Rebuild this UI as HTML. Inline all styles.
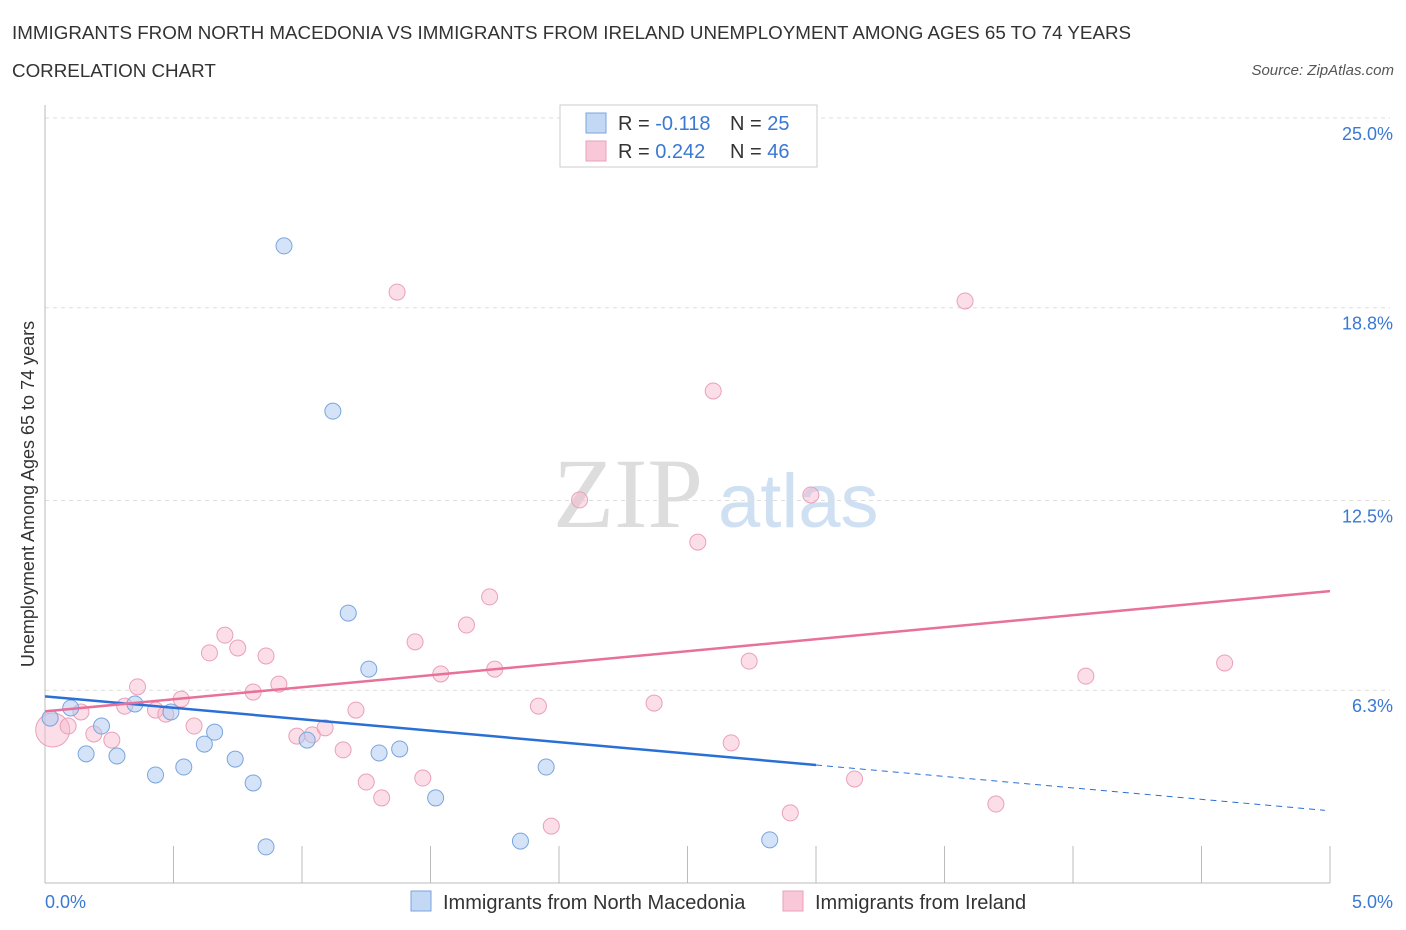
<!DOCTYPE html>
<html><head><meta charset="utf-8">
<style>
body{margin:0;background:#fff;font-family:"Liberation Sans",sans-serif;}
#wrap{position:relative;width:1406px;height:930px;overflow:hidden;}
.t{position:absolute;white-space:nowrap;}
</style></head><body>
<div id="wrap">
<div class="t" style="left:12px;top:22px;font-size:18.8px;color:#333;">IMMIGRANTS FROM NORTH MACEDONIA VS IMMIGRANTS FROM IRELAND UNEMPLOYMENT AMONG AGES 65 TO 74 YEARS</div>
<div class="t" style="left:12px;top:60px;font-size:18.8px;color:#333;">CORRELATION CHART</div>
<div class="t" style="right:12px;top:62px;font-size:15px;color:#555;font-style:italic;">Source: ZipAtlas.com</div>
<svg id="chart" width="1406" height="930" style="position:absolute;left:0;top:0"></svg>
</div>
<script>
const blueX=[0.02,0.10,0.16,0.22,0.28,0.35,0.43,0.49,0.54,0.62,0.66,0.74,0.81,0.86,0.93,1.02,1.12,1.18,1.26,1.30,1.38,1.52,1.85,1.95,2.82];
const blueY=[5.39,5.72,4.22,5.13,4.15,5.85,3.53,5.59,3.79,4.54,4.93,4.05,3.27,1.18,20.82,4.67,15.42,8.82,6.99,4.25,4.38,2.78,1.37,3.79,1.41];
const pinkX=[0.03,0.09,0.14,0.19,0.26,0.31,0.36,0.43,0.47,0.53,0.58,0.64,0.70,0.75,0.81,0.86,0.91,0.98,1.04,1.09,1.16,1.21,1.25,1.31,1.37,1.44,1.47,1.54,1.64,1.73,1.75,1.92,1.97,2.08,2.37,2.54,2.60,2.67,2.74,2.90,2.98,3.15,3.58,3.70,4.05,4.59];
const pinkY=[5.0,5.13,5.59,4.87,4.67,5.78,6.41,5.65,5.52,6.01,5.13,7.52,8.10,7.68,6.24,7.42,6.50,4.80,4.84,5.07,4.35,5.65,3.30,2.78,19.31,7.88,3.43,6.83,8.43,9.35,6.99,5.78,1.86,12.52,5.88,11.14,16.08,4.58,7.25,2.29,12.68,3.40,19.02,2.58,6.76,7.19];
const yTicks=[25,18.8,12.5,6.3];
const yTickLabels=["25.0%","18.8%","12.5%","6.3%"];
const blueTrend=[6.1,2.36];
const pinkTrend=[5.61,9.54];
const NS="http://www.w3.org/2000/svg";
const svg=document.getElementById('chart');
const X0=45,X1=1330,Y0=883,YS=30.6;
const sx=v=>X0+v/5*(X1-X0);
const sy=v=>Y0-v*YS;
function mk(t,a,p){const e=document.createElementNS(NS,t);for(const k in a)e.setAttribute(k,a[k]);(p||svg).appendChild(e);return e;}
let wm=mk('text',{x:553,y:527,'font-size':100,fill:'#ddd','font-family':'Liberation Serif, serif'});wm.textContent='ZIP';


let wm2=mk('text',{x:718,y:527,'font-size':76,fill:'#cfe0f3','font-family':'Liberation Sans, sans-serif'});wm2.textContent='atlas';


yTicks.forEach((t,i)=>{
 const g=mk('line',{x1:X0,x2:1390,y1:sy(t),y2:sy(t),stroke:'#ddd','stroke-dasharray':'4,4'});
 
 
 const l=mk('text',{x:1393,y:sy(t)+22,'text-anchor':'end','font-size':18,fill:'#3a78d4'});l.textContent=yTickLabels[i];
 
 
});
mk('line',{x1:X0,x2:X0,y1:105,y2:Y0,stroke:'#bbb'});
mk('line',{x1:X0,x2:X1,y1:Y0,y2:Y0,stroke:'#bbb'});
for(let i=0;i<=10;i++){const x=sx(i*0.5);const tk=mk('line',{x1:x,x2:x,y1:Y0-37,y2:Y0,stroke:'#bbb'});
 
 }
let xl=mk('text',{x:45,y:908,'font-size':18,fill:'#3a78d4'});xl.textContent='0.0%';


let xr=mk('text',{x:1393,y:908,'font-size':18,fill:'#3a78d4','text-anchor':'end'});xr.textContent='5.0%';


let yt=mk('text',{x:34,y:494,'font-size':18,fill:'#333','text-anchor':'middle',transform:'rotate(-90 34 494)'});yt.textContent='Unemployment Among Ages 65 to 74 years';


pinkX.forEach((v,i)=>{const c=mk('circle',{cx:sx(v),cy:sy(pinkY[i]),r:i===0?17:8,fill:'rgba(246,182,204,0.45)',stroke:'#eaa0b8','stroke-width':1});
 
 });
blueX.forEach((v,i)=>{const c=mk('circle',{cx:sx(v),cy:sy(blueY[i]),r:8,fill:'rgba(170,200,240,0.5)',stroke:'#7aa5dd','stroke-width':1});
 
 });
const bAt=x=>blueTrend[0]+(blueTrend[1]-blueTrend[0])*x/5;
let bl=mk('line',{x1:sx(0),y1:sy(bAt(0)),x2:sx(3),y2:sy(bAt(3)),stroke:'#2a6fd6','stroke-width':2.5});


let bd=mk('line',{x1:sx(3),y1:sy(bAt(3)),x2:sx(4.98),y2:sy(bAt(4.98)),stroke:'#2a6fd6','stroke-width':1,'stroke-dasharray':'6,5'});


let pl=mk('line',{x1:sx(0),y1:sy(pinkTrend[0]),x2:sx(5),y2:sy(pinkTrend[1]),stroke:'#e8709a','stroke-width':2.5});


let lb=mk('rect',{x:560,y:105,width:257,height:62,fill:'#fff',stroke:'#ccc'});


[[ '#c3d8f5','#7aa5dd','-0.118','25',123],['#f9c8d8','#eaa0b8','0.242','46',151]].forEach(r=>{
 const s=mk('rect',{x:586,y:r[4]-10,width:20,height:20,fill:r[0],stroke:r[1]});
 
 
 const t=mk('text',{x:618,y:r[4]+7,'font-size':20,fill:'#333'});
 t.innerHTML='R = <tspan fill="#3a78d4">'+r[2]+'</tspan><tspan x="730">N = </tspan><tspan fill="#3a78d4">'+r[3]+'</tspan>';
 
 
});
[['#c3d8f5','#7aa5dd','Immigrants from North Macedonia',411],['#f9c8d8','#eaa0b8','Immigrants from Ireland',783]].forEach(r=>{
 const s=mk('rect',{x:r[3],y:891,width:20,height:20,fill:r[0],stroke:r[1]});
 
 
 const t=mk('text',{x:r[3]+32,y:909,'font-size':20,fill:'#333'});t.textContent=r[2];
 
 
});
</script>
</body></html>
